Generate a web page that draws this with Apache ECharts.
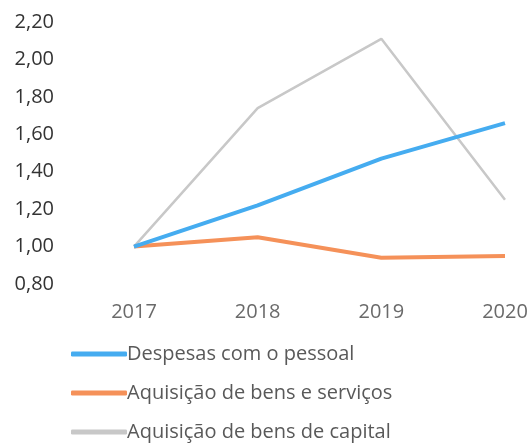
<!DOCTYPE html>
<html>
<head>
<meta charset="utf-8">
<script src="https://cdn.jsdelivr.net/npm/echarts@6/dist/echarts.min.js"></script>
<style>
  html, body { margin: 0; padding: 0; background: #fff; }
  #chart_div { width: 531px; height: 443px; }
</style>
</head>
<body>
<div id="chart_div"></div>
<script>
// dados do gráfico
var anos = ['2017', '2018', '2019', '2020'];
var pessoal = [1.00, 1.22, 1.47, 1.66];
var bensServicos = [1.00, 1.05, 0.94, 0.95];
var bensCapital = [1.00, 1.74, 2.11, 1.25];
var nomes = ['Despesas com o pessoal', 'Aquisição de bens e serviços', 'Aquisição de bens de capital'];

var chart = echarts.init(document.getElementById('chart_div'));
var option = {
	animation: false,
	textStyle: { fontFamily: 'Open Sans' },
	grid: {
		left: 134,
		right: 26,
		top: 22,
		bottom: 159
	},
	legend: {
		orient: 'vertical',
		left: 71,
		top: 344,
		padding: 0,
		itemGap: 19,
		itemWidth: 56,
		itemHeight: 5,
		icon: 'roundRect',
		textStyle: { fontSize: 20, lineHeight: 20, color: '#595959', padding: [0, 0, 0, -5] },
		data: nomes
	},
	xAxis: {
		type: 'category',
		boundaryGap: false,
		data: anos,
		axisLine: { show: false },
		axisTick: { show: false },
		axisLabel: { fontSize: 20, color: '#6a6a6a', margin: 18 }
	},
	yAxis: {
		type: 'value',
		min: 0.8,
		max: 2.2,
		interval: 0.2,
		splitLine: { show: false },
		axisLine: { show: false },
		axisTick: { show: false },
		axisLabel: {
			fontSize: 20,
			color: '#333333',
			margin: 80,
			formatter: function (v) { return v.toFixed(2).replace('.', ','); }
		}
	},
	series: [{
		name: nomes[2],
		type: 'line',
		data: bensCapital,
		symbol: 'none',
		z: 1,
		color: '#c8c8c8',
		lineStyle: { width: 2.5, color: '#c8c8c8' }
	}, {
		name: nomes[0],
		type: 'line',
		data: pessoal,
		symbol: 'none',
		z: 3,
		color: '#45acf0',
		lineStyle: { width: 4, color: '#45acf0' }
	}, {
		name: nomes[1],
		type: 'line',
		data: bensServicos,
		symbol: 'none',
		z: 2,
		color: '#f59159',
		lineStyle: { width: 4, color: '#f59159' }
	}]
};
chart.setOption(option, true);
</script>
</body>
</html>
